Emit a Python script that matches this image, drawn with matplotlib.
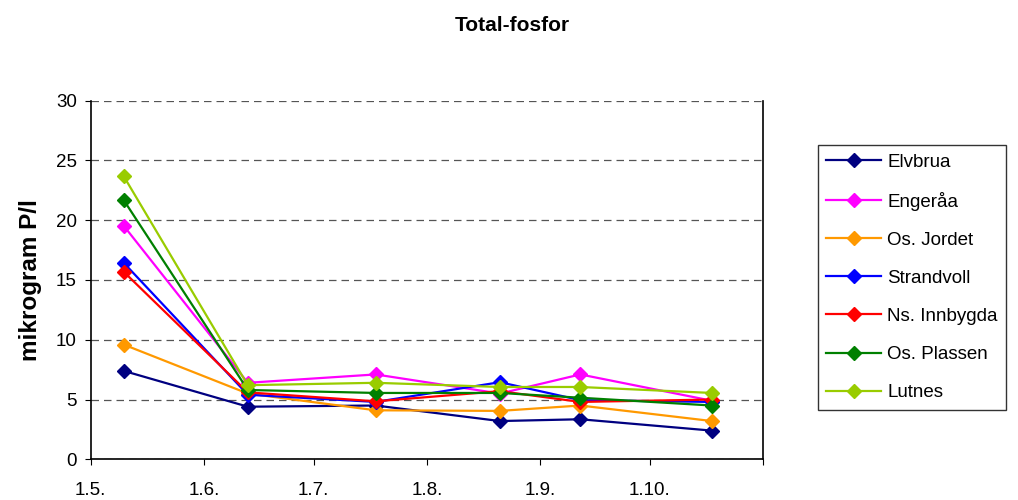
import datetime as dt
import matplotlib
matplotlib.use("Agg")
import matplotlib.pyplot as plt
import matplotlib.dates as mdates

plt.rcParams['font.family'] = ['Liberation Sans', 'DejaVu Sans']

# sampling dates
dates = [dt.date(2007, 5, 10), dt.date(2007, 6, 13), dt.date(2007, 7, 18),
         dt.date(2007, 8, 21), dt.date(2007, 9, 12), dt.date(2007, 10, 18)]

elvbrua = [7.4, 4.4, 4.5, 3.2, 3.35, 2.4]
engeraa = [19.55, 6.4, 7.1, 5.5, 7.1, 4.9]
os_jordet = [9.6, 5.5, 4.1, 4.05, 4.5, 3.2]
strandvoll = [16.45, 5.4, 4.8, 6.45, 4.95, 4.8]
ns_innbygda = [15.7, 5.6, 4.85, 5.7, 4.8, 5.0]
os_plassen = [21.7, 5.8, 5.55, 5.55, 5.15, 4.5]
lutnes = [23.7, 6.2, 6.4, 6.05, 6.05, 5.55]

names = ["Elvbrua", "Engeråa", "Os. Jordet", "Strandvoll", "Ns. Innbygda", "Os. Plassen", "Lutnes"]
series = [elvbrua, engeraa, os_jordet, strandvoll, ns_innbygda, os_plassen, lutnes]
colors = ["#000080", "#FF00FF", "#FF9900", "#0000FF", "#FF0000", "#008000", "#99CC00"]

tick_dates = [dt.date(2007, m, 1) for m in range(5, 12)]
tick_labels = ["1.5.", "1.6.", "1.7.", "1.8.", "1.9.", "1.10.", ""]

fig = plt.figure(figsize=(10.18, 5), dpi=100)
ax = fig.add_axes([0.0891, 0.0814, 0.6604, 0.7172])

for name, vals, c in zip(names, series, colors):
    ax.plot(dates, vals, color=c, lw=1.6, marker="D", markersize=7, label=name)

ax.set_xlim(tick_dates[0], tick_dates[-1])
ax.set_ylim(0, 30)
ax.set_yticks(range(0, 31, 5))
ax.set_xticks([mdates.date2num(d) for d in tick_dates])
ax.set_xticklabels(tick_labels)
ax.tick_params(axis="both", labelsize=13.5, direction="out", length=4, color="black")
ax.tick_params(axis="x", pad=12)
ax.tick_params(axis="y", pad=6)
ax.yaxis.grid(True, linestyle=(0, (6, 4)), color="#555555", lw=0.9)
ax.set_axisbelow(True)
ax.spines["top"].set_visible(False)
for s in ["left", "bottom", "right"]:
    ax.spines[s].set_linewidth(1.2)

ax.set_ylabel("mikrogram P/l", fontsize=17.5, fontweight="bold", labelpad=10)
fig.suptitle("Total-fosfor", fontsize=15, fontweight="bold", x=0.503, y=0.968)

leg = fig.legend(loc="upper left", bbox_to_anchor=(0.8035, 0.71), fontsize=13.5,
                 frameon=True, fancybox=False, edgecolor="black", handlelength=2.9,
                 labelspacing=1.12, borderpad=0.45, handletextpad=0.35,
                 borderaxespad=0)
leg.get_frame().set_linewidth(1.0)

fig.savefig("out.png", dpi=100)
